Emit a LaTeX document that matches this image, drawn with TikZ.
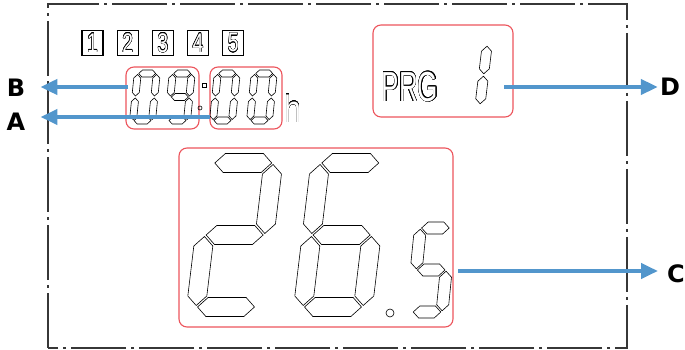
\documentclass[tikz,border=0pt]{standalone}
\usepackage{fontspec}
\setmainfont{Liberation Sans}
\newfontfamily\tagfont{DejaVu Sans}
\usepackage{graphicx}
\usepackage[copies]{contour}
\contourlength{0.45pt}
\usepackage{tikz}
\usetikzlibrary{arrows.meta}

\definecolor{zonered}{RGB}{236,84,92}
\definecolor{arrowblue}{RGB}{82,150,204}
\definecolor{framegray}{RGB}{55,55,55}

%% seven-segment pieces (cell: width \dgw, height \dgh, bar \dgt, gap \dgg)
\newcommand\hseg[1]{(\dgg,#1) -- (\dgg+\dgt/2,#1+\dgt/2) -- (\dgw-\dgg-\dgt/2,#1+\dgt/2)
  -- (\dgw-\dgg,#1) -- (\dgw-\dgg-\dgt/2,#1-\dgt/2) -- (\dgg+\dgt/2,#1-\dgt/2) -- cycle}
\newcommand\vseg[3]{(#1,#2+\dgg) -- (#1+\dgt/2,#2+\dgg+\dgt/2) -- (#1+\dgt/2,#3-\dgg-\dgt/2)
  -- (#1,#3-\dgg) -- (#1-\dgt/2,#3-\dgg-\dgt/2) -- (#1-\dgt/2,#2+\dgg+\dgt/2) -- cycle}
\newcommand\sega{\hseg{\dgh}}
\newcommand\segb{\vseg{\dgw}{\dgh/2}{\dgh}}
\newcommand\segc{\vseg{\dgw}{0}{\dgh/2}}
\newcommand\segd{\hseg{0}}
\newcommand\sege{\vseg{0}{0}{\dgh/2}}
\newcommand\segf{\vseg{0}{\dgh/2}{\dgh}}
\newcommand\segg{\hseg{\dgh/2}}
\newcommand\lcdtext[2]{\scalebox{#1}[1]{\contour{black}{\textcolor{white}{#2}}}}

\begin{document}
\begin{tikzpicture}[
  x=1pt, y=1pt,
  seg/.style={draw=black, line width=0.6pt, line join=miter},
  zone/.style={draw=zonered, rounded corners=8pt, line width=1.1pt, inner sep=0pt},
  slot/.style={draw=black, line width=1.2pt, minimum width=21pt, minimum height=25pt,
               inner sep=0pt, font=\fontsize{27}{27}\selectfont},
  tag/.style={font=\tagfont\bfseries\fontsize{24}{24}\selectfont, inner sep=0pt},
  arr/.style={-{Triangle[length=17pt,width=15pt]}, draw=arrowblue, line width=4pt},
  lcdframe/.style={draw=framegray, line width=1.8pt, dash pattern=on 55pt off 5pt on 3pt off 5pt},
  dig w/.store in=\dgw, dig h/.store in=\dgh, dig t/.store in=\dgt, dig g/.store in=\dgg,
  bigdig/.style={dig w=60, dig h=144, dig t=19, dig g=1.5, xslant=.12},
  smalldig/.style={dig w=30, dig h=84, dig t=12, dig g=1.2, xslant=.1},
  clockdig/.style={dig w=19, dig h=47, dig t=7, dig g=1, xslant=.1},
  prgdig/.style={dig w=10, dig h=60, dig t=10, dig g=1.2, xslant=.12},
  pics/lcd/.style={code={\foreach \sgm in {#1}{\draw[seg] \csname seg\sgm\endcsname;}}},
]
\useasboundingbox (0,0) rectangle (685,350);

%% --- Display outline ---
\draw[lcdframe] (48,2) rectangle (627,346);

%% --- Day slots 1--5 ---
\foreach \n in {1,...,5}
  \node[slot] (day\n) at (92.5+35.2*\n-35.2,307) {\lcdtext{.72}{\n}};

%% --- Clock 09:00 ---
\node[zone, minimum width=73pt, minimum height=62pt] (hrs)  at (162.5,252) {};
\node[zone, minimum width=72pt, minimum height=62pt] (mins) at (246,252) {};
\pic[clockdig] at (133,229.5) {lcd={a,b,c,d,e,f}};
\pic[clockdig] at (168,229.5) {lcd={a,b,c,d,f,g}};
\pic[clockdig] at (213,229.5) {lcd={a,b,c,d,e,f}};
\pic[clockdig] at (250,229.5) {lcd={a,b,c,d,e,f}};
\draw[seg] (202,263) rectangle (206,267);
\draw[seg] (200,242) circle (2);
\node[inner sep=0pt, font=\fontsize{38}{38}\selectfont] (unit) at (293,241.5) {\lcdtext{.8}{h}};

%% --- Program ---
\node[zone, minimum width=140pt, minimum height=92pt] (prg) at (443,279) {};
\node[inner sep=0pt, font=\fontsize{42}{42}\selectfont] (prgtxt) at (410,263) {\lcdtext{.62}{PRG}};
\pic[prgdig] at (470,245) {lcd={b,c}};

%% --- Temperature 26.5 ---
\node[zone, minimum width=274pt, minimum height=179pt] (temp) at (316,112.5) {};
\pic[bigdig] at (196,43) {lcd={a,b,d,e,g}};
\pic[bigdig] at (303,43) {lcd={a,c,d,e,f,g}};
\draw[seg] (390,37) circle (4);
\pic[smalldig] at (412,38) {lcd={a,c,d,f,g}};

%% --- Callouts ---
\node[tag] (B) at (16,262) {B};
\node[tag] (A) at (16,228.5) {A};
\node[tag] (D) at (670,263) {D};
\node[tag] (C) at (676,76) {C};

\coordinate (hrsout)  at (128,263);
\coordinate (minsout) at (210,233);
\coordinate (prgout)  at (504,263);
\coordinate (tempout) at (458,79);
\draw[arr, shorten >=15pt] (hrsout)  -- (hrsout -| B.east);
\draw[arr, shorten >=15pt] (minsout) -- (minsout -| A.east);
\draw[arr, shorten >=2pt]  (prgout)  -- (prgout -| D.west);
\draw[arr, shorten >=9pt]  (tempout) -- (tempout -| C.west);

\end{tikzpicture}
\end{document}
